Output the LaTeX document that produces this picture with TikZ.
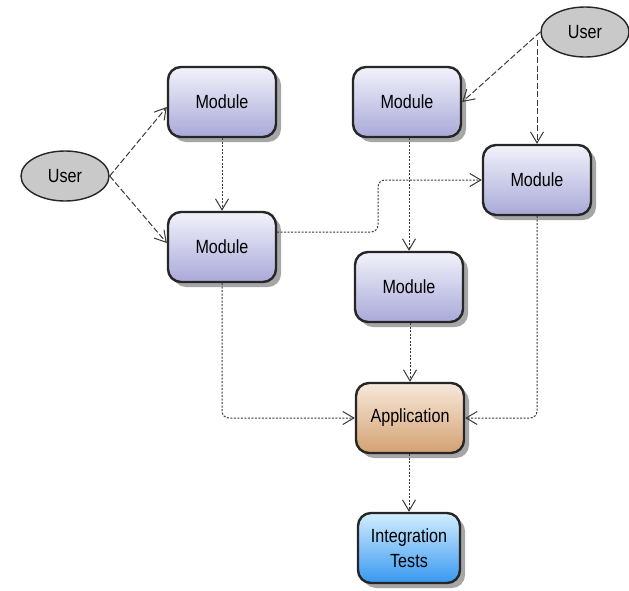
\documentclass[tikz,border=0pt]{standalone}
\usepackage{fontspec}
\setmainfont{Liberation Sans}
\usetikzlibrary{arrows.meta,shadows,shapes.geometric,calc}

\definecolor{bordc}{HTML}{262626}
\definecolor{linec}{HTML}{3A3A3A}
\definecolor{modtop}{HTML}{F2F2FB}
\definecolor{modbot}{HTML}{A9A9D9}
\definecolor{apptop}{HTML}{F7E8DA}
\definecolor{appbot}{HTML}{D3A172}
\definecolor{testtop}{HTML}{D2EDFF}
\definecolor{testbot}{HTML}{3798F0}
\definecolor{usergray}{HTML}{C9C9C9}

% slightly narrow, tall lettering
\newcommand{\lbl}[1]{\scalebox{0.95}[1.12]{#1}}

\tikzset{
  box/.style={rectangle, rounded corners=13pt, draw=bordc, line width=2.4pt,
    minimum width=108pt, minimum height=70pt, align=center,
    font=\fontsize{17}{25}\selectfont,
    drop shadow={shadow xshift=5pt, shadow yshift=-5pt, fill=black!35, opacity=1}},
  modbox/.style={box, top color=modtop, bottom color=modbot},
  appbox/.style={box, top color=apptop, bottom color=appbot},
  testbox/.style={box, minimum width=102pt, top color=testtop, bottom color=testbot},
  actor/.style={ellipse, draw=bordc, line width=1.4pt, fill=usergray,
    minimum width=88pt, minimum height=50pt, inner sep=0pt,
    font=\fontsize{17}{20}\selectfont},
  tipv/.style={-{Straight Barb[length=11pt,width=13pt,line width=1pt]}},
  uselink/.style={tipv, draw=linec, line width=1pt, dash pattern=on 6pt off 2.5pt},
  deplink/.style={tipv, draw=linec, line width=1pt, dash pattern=on 2pt off 1.5pt, rounded corners=7pt},
}

\begin{document}
\begin{tikzpicture}[x=1pt,y=-1pt]
\useasboundingbox (0,0) rectangle (629,590);
\fill[white] (0,0) rectangle (629,590);

% actors
\node[actor] (ul) at (65,176) {\lbl{User}};
\node[actor] (ur) at (585,32) {\lbl{User}};

% modules
\node[modbox] (m1) at (222,102) {\lbl{Module}};
\node[modbox] (m2) at (222,247) {\lbl{Module}};
\node[modbox] (m3) at (407,102) {\lbl{Module}};
\node[modbox] (m4) at (537,180) {\lbl{Module}};
\node[modbox] (m5) at (409,287) {\lbl{Module}};

% application and tests
\node[appbox] (app) at (410,418) {\lbl{Application}};
\node[testbox] (it) at (409,548) {\lbl{Integration}\\\lbl{Tests}};

% helper points
\coordinate (bend) at (378,0);
\coordinate (urstart) at ([yshift=-8pt]ur.west);

% use links
\draw[uselink] (ul.east) -- ([yshift=-5pt]m1.west);
\draw[uselink] (ul.east) -- ([yshift=4pt]m2.west);
\draw[uselink] (ur.west) -- (m3.east);
\draw[uselink] (urstart -| m4.north) -- (m4.north);

% dependency links
\draw[deplink] (m1.south) -- (m2.north);
\draw[deplink] ([yshift=15pt]m2.east) -| (bend |- m4.west) -- (m4.west);
\draw[deplink] (m3.south -| m5.north) -- (m5.north);
\draw[deplink] (m2.south) |- (app.west);
\draw[deplink] (m4.south) |- (app.east);
\draw[deplink] (m5.south -| app.north) -- (app.north);
\draw[deplink] (app.south -| it.north) -- (it.north);
\end{tikzpicture}
\end{document}
